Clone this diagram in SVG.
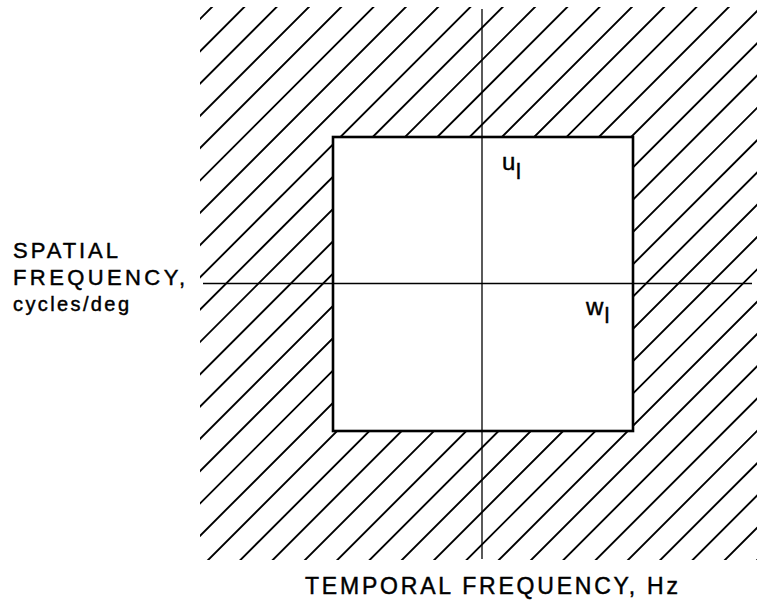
<svg xmlns="http://www.w3.org/2000/svg" width="757" height="600" viewBox="0 0 757 600">
<style>
.t{font-family:"Liberation Sans",Arial,Helvetica,sans-serif;fill:#000;stroke:#000;stroke-width:0.45;}
.hatch{fill:none;stroke:#000;stroke-width:1.9;}
.axis{fill:none;stroke:#000;stroke-width:1.3;}
.box{fill:none;stroke:#000;stroke-width:2.6;}
</style>
<defs>
<clipPath id="hatchClip">
<path clip-rule="evenodd" d="M200 7 H757 V560 H200 Z M333 137 V431 H633 V137 Z"/>
</clipPath>
</defs>
<rect width="757" height="600" fill="#fff"/>
<g id="hatching" clip-path="url(#hatchClip)">
<path class="hatch" d="M-351 570l570 -570M-318.7 570l570 -570M-286.4 570l570 -570M-254.1 570l570 -570M-221.8 570l570 -570M-189.5 570l570 -570M-157.2 570l570 -570M-124.9 570l570 -570M-92.6 570l570 -570M-60.3 570l570 -570M-28 570l570 -570M4.3 570l570 -570M36.6 570l570 -570M68.9 570l570 -570M101.2 570l570 -570M133.5 570l570 -570M165.8 570l570 -570M198.1 570l570 -570M230.4 570l570 -570M262.7 570l570 -570M295 570l570 -570M327.3 570l570 -570M359.6 570l570 -570M391.9 570l570 -570M424.2 570l570 -570M456.5 570l570 -570M488.8 570l570 -570M521.1 570l570 -570M553.4 570l570 -570M585.7 570l570 -570M618 570l570 -570M650.3 570l570 -570M682.6 570l570 -570M714.9 570l570 -570M747.2 570l570 -570"/>
</g>
<g id="passband">
<rect class="box" x="333" y="137" width="300" height="294"/>
</g>
<g id="axes">
<line class="axis" x1="482" y1="9" x2="482" y2="559"/>
<line class="axis" x1="203" y1="283.5" x2="752" y2="283.5"/>
</g>
<g id="label-ul">
<text class="t" x="502" y="170" font-size="24">u</text>
<text class="t" x="516" y="179" font-size="22">l</text>
</g>
<g id="label-wl">
<text class="t" x="586" y="315" font-size="24">w</text>
<text class="t" x="604.5" y="323" font-size="22">l</text>
</g>
<g id="label-y">
<text class="t" x="13" y="258" font-size="22" textLength="105" lengthAdjust="spacing">SPATIAL</text>
<text class="t" x="13" y="285" font-size="22" textLength="172" lengthAdjust="spacing">FREQUENCY,</text>
<text class="t" x="13" y="311" font-size="20" textLength="116" lengthAdjust="spacing">cycles/deg</text>
</g>
<g id="label-x">
<text class="t" x="305" y="594" font-size="23" textLength="373" lengthAdjust="spacing">TEMPORAL FREQUENCY, Hz</text>
</g>
</svg>
